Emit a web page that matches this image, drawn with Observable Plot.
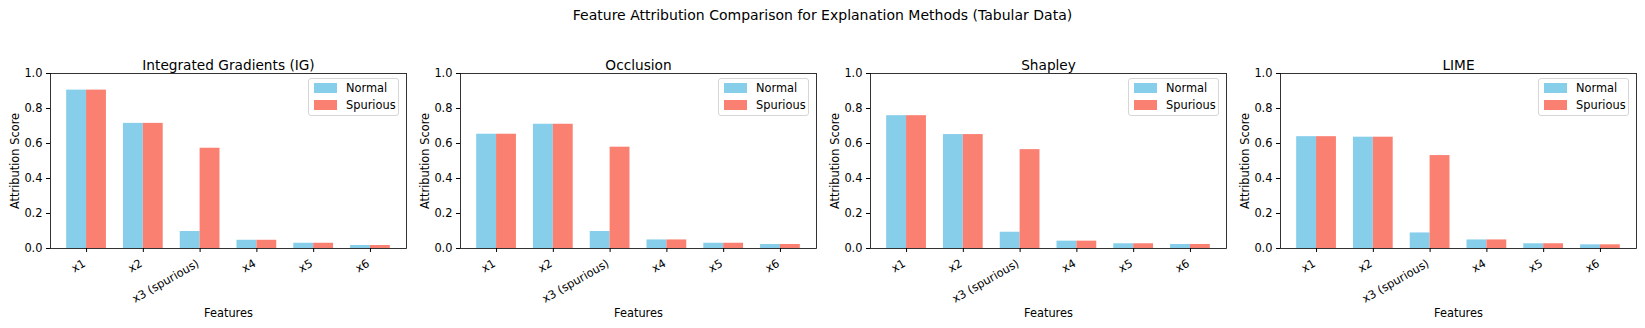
<!DOCTYPE html>
<html>
<head>
<meta charset="utf-8">
<script src="https://cdn.jsdelivr.net/npm/d3@7"></script>
<script src="https://cdn.jsdelivr.net/npm/@observablehq/plot@0.6"></script>
<style>
  body { margin: 0; background: #fff; font-family: "DejaVu Sans", sans-serif; }
  #title { height: 45px; width: 1645px; text-align: center; font-size: 14px; line-height: 31px; color: #000; }
  #row { display: flex; width: 1645px; }
  .panel { position: relative; width: 410px; height: 283px; }
  .legend { position: absolute; left: 308px; top: 33px; width: 89px; height: 36px;
            border: 1px solid #d6d6d6; border-radius: 3px; background: rgba(255,255,255,0.8);
            font-size: 11.4px; color: #000; }
  .legend .item { position: absolute; left: 5px; height: 10px; display: flex; align-items: center; white-space: nowrap; }
  .legend .sw { width: 23px; height: 10px; margin-right: 9px; }
</style>
</head>
<body>
<div id="title">Feature Attribution Comparison for Explanation Methods (Tabular Data)</div>
<div id="row"></div>
<script>
const methods = ["Integrated Gradients (IG)", "Occlusion", "Shapley", "LIME"];
const features = ["x1", "x2", "x3 (spurious)", "x4", "x5", "x6"];
const series = ["Normal", "Spurious"];
const colors = ["#87CEEB", "#FA8072"];

const normalIG        = [0.905, 0.715, 0.097, 0.047, 0.030, 0.017];
const spuriousIG      = [0.905, 0.715, 0.573, 0.047, 0.030, 0.017];
const normalOcclusion   = [0.653, 0.710, 0.097, 0.049, 0.030, 0.023];
const spuriousOcclusion = [0.653, 0.710, 0.579, 0.049, 0.030, 0.023];
const normalShapley   = [0.759, 0.651, 0.093, 0.042, 0.027, 0.023];
const spuriousShapley = [0.759, 0.651, 0.565, 0.042, 0.027, 0.023];
const normalLIME      = [0.639, 0.636, 0.089, 0.049, 0.027, 0.021];
const spuriousLIME    = [0.639, 0.636, 0.531, 0.049, 0.027, 0.021];

const yTicks = [0, 0.2, 0.4, 0.6, 0.8, 1.0];

const valuesByMethod = [
  [normalIG, spuriousIG],
  [normalOcclusion, spuriousOcclusion],
  [normalShapley, spuriousShapley],
  [normalLIME, spuriousLIME]
];

const barWidth = 0.35;
const row = document.getElementById("row");

methods.forEach((m, mi) => {
  const data = [];
  series.forEach((s, si) => {
    features.forEach((f, fi) => {
      data.push({feature: f, i: fi, series: s, si, value: valuesByMethod[mi][si][fi]});
    });
  });
  const featureRows = features.map((f, i) => ({feature: f, i}));

  const chart = Plot.plot({
    width: 410,
    height: 283,
    marginLeft: 50,
    marginRight: 4,
    marginTop: 28,
    marginBottom: 80,
    style: {fontFamily: "DejaVu Sans, sans-serif", fontSize: "11.4px", color: "#000", background: "#fff"},
    x: {domain: [-0.635, 5.635], axis: null},
    y: {domain: [0, 1], axis: null},
    color: {domain: series, range: colors},
    marks: [
      Plot.rectY(data, {
        x1: d => d.i - barWidth + d.si * barWidth,
        x2: d => d.i + d.si * barWidth,
        y1: 0,
        y2: "value",
        fill: "series"
      }),
      Plot.axisY(yTicks, {
        tickFormat: d3.format(".1f"),
        tickSize: 4,
        tickPadding: 4,
        fontSize: 11.4,
        label: "Attribution Score",
        labelAnchor: "center",
        labelArrow: false,
        labelOffset: 40
      }),
      Plot.axisX(d3.range(features.length), {
        tickFormat: () => "",
        tickSize: 4,
        label: null
      }),
      Plot.text(featureRows, {
        x: "i",
        y: 0,
        text: "feature",
        rotate: -30,
        textAnchor: "end",
        lineAnchor: "middle",
        dy: 14,
        dx: -2,
        fontSize: 11.4,
        fill: "#000"
      }),
      Plot.text(["Features"], {
        frameAnchor: "bottom",
        dy: 68.5,
        text: d => d,
        fontSize: 11.4,
        fill: "#000"
      }),
      Plot.frame({stroke: "#000", strokeWidth: 0.8}),
      Plot.text([m], {
        frameAnchor: "top",
        dy: -13,
        text: d => d,
        fontSize: 13.7,
        fill: "#000"
      })
    ]
  });

  const panel = document.createElement("div");
  panel.className = "panel";
  panel.appendChild(chart);

  const legend = document.createElement("div");
  legend.className = "legend";
  series.forEach((s, si) => {
    const item = document.createElement("div");
    item.className = "item";
    item.style.top = (4 + si * 17) + "px";
    const sw = document.createElement("div");
    sw.className = "sw";
    sw.style.background = colors[si];
    item.appendChild(sw);
    item.appendChild(document.createTextNode(s));
    legend.appendChild(item);
  });
  panel.appendChild(legend);
  row.appendChild(panel);
});
</script>
</body>
</html>
